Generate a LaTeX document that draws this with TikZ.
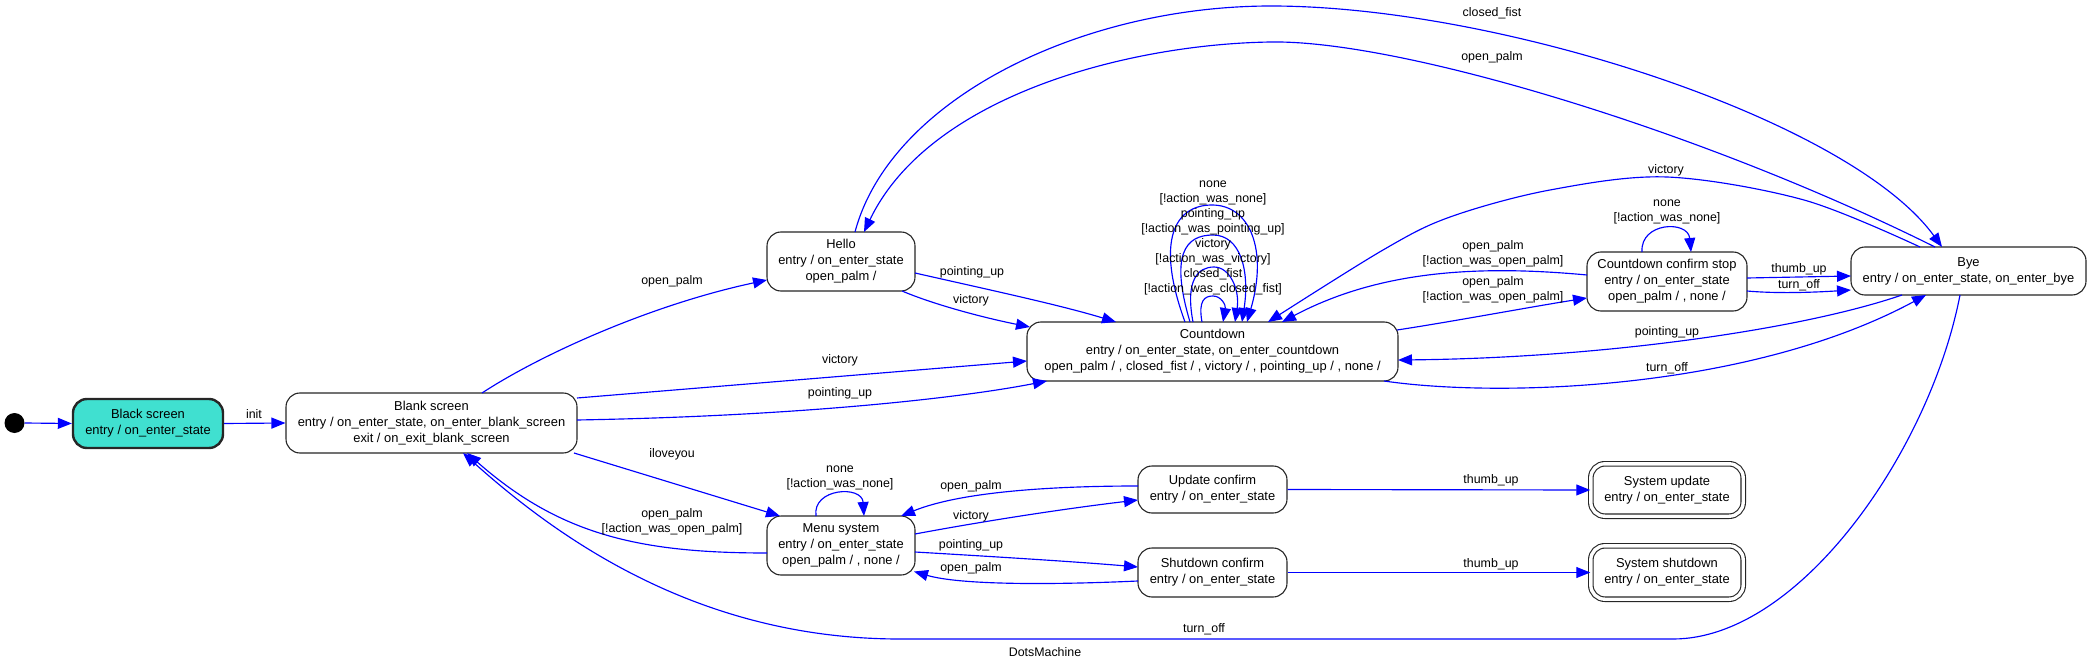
\documentclass[tikz,border=0pt]{standalone}
\usepackage{fontspec}
\setmainfont{Liberation Sans}
\usetikzlibrary{arrows.meta,calc}
\definecolor{turq}{RGB}{64,224,208}
\newcommand\stnfont{\fontsize{12.9pt}{16pt}\selectfont}
\newcommand\stefont{\fontsize{12.4pt}{15pt}\selectfont}
\tikzset{
  state/.style={draw=black!85, line width=1.1pt, rounded corners=14pt, fill=white,
    align=center, font=\stnfont, inner sep=0pt},
  finalstate/.style={state, double, double distance=3.4pt},
  tr/.style={draw=blue, line width=1.15pt, -{Triangle[length=14pt,width=11pt]}},
  lbl/.style={font=\stefont, inner sep=0pt, align=center},
}
\begin{document}
\begin{tikzpicture}[x=1pt,y=-1pt]
\useasboundingbox (0,0) rectangle (2091,671);
% nodes
\node[circle, fill=black, minimum size=20pt, inner sep=0pt] (init) at (14.5,423) {};
\node[state, line width=2.4pt, fill=turq, minimum width=150pt, minimum height=49pt] (black) at (148,423.5) {Black screen\\entry / on\_enter\_state};
\node[state, minimum width=291pt, minimum height=60pt] (blank) at (431.5,423) {Blank screen\\entry / on\_enter\_state, on\_enter\_blank\_screen\\exit / on\_exit\_blank\_screen};
\node[state, minimum width=148pt, minimum height=59pt] (hello) at (841,261.5) {Hello\\entry / on\_enter\_state\\open\_palm /};
\node[state, minimum width=371pt, minimum height=59pt] (countdown) at (1212.5,351.5) {Countdown\\entry / on\_enter\_state, on\_enter\_countdown\\open\_palm / , closed\_fist / , victory / , pointing\_up / , none /};
\node[state, minimum width=160pt, minimum height=59pt] (ccs) at (1667,281.5) {Countdown confirm stop\\entry / on\_enter\_state\\open\_palm / , none /};
\node[state, minimum width=235pt, minimum height=48pt] (bye) at (1968.5,271) {Bye\\entry / on\_enter\_state, on\_enter\_bye};
\node[state, minimum width=148pt, minimum height=59pt] (menu) at (841,545.5) {Menu system\\entry / on\_enter\_state\\open\_palm / , none /};
\node[state, minimum width=149pt, minimum height=47pt] (upd) at (1212.5,489.5) {Update confirm\\entry / on\_enter\_state};
\node[state, minimum width=149pt, minimum height=49pt] (shut) at (1212.5,572.5) {Shutdown confirm\\entry / on\_enter\_state};
\node[finalstate, minimum width=152.4pt, minimum height=52.4pt] (sysupd) at (1667,490) {System update\\entry / on\_enter\_state};
\node[finalstate, minimum width=152.4pt, minimum height=53.4pt] (sysshut) at (1667,572.5) {System shutdown\\entry / on\_enter\_state};

% edges
\draw[tr] (init.east) -- (black.west);
\draw[tr] (black.east) -- (blank.west);
\node[lbl] (l-init) at (254,414) {init};

\draw[tr] ([shift={(50.5,-30)}]blank.center) .. controls (540,355) and (650,305) .. ([shift={(-74,18.5)}]hello.center);
\node[lbl] (l-bh) at (672,281) {open\_palm};

\draw[tr] ([shift={(74,11.5)}]hello.center) .. controls (990,290) and (1060,305) .. ([shift={(-96.5,-29.5)}]countdown.center);
\node[lbl] (l-hc1) at (972,272) {pointing\_up};
\draw[tr] ([shift={(61,29.5)}]hello.center) .. controls (935,305) and (985,318) .. ([shift={(-182.5,-24.5)}]countdown.center);
\node[lbl] (l-hc2) at (971,300) {victory};

\draw[tr] ([shift={(145.5,-25)}]blank.center) -- ([shift={(-185.5,9.5)}]countdown.center);
\node[lbl] (l-bc1) at (840,360) {victory};
\draw[tr] ([shift={(145.5,-3)}]blank.center) .. controls (800,416) and (960,398) .. ([shift={(-165.5,29.5)}]countdown.center);
\node[lbl] (l-bc2) at (840,393) {pointing\_up};

\draw[tr] ([shift={(142.5,30)}]blank.center) -- ([shift={(-61,-29.5)}]menu.center);
\node[lbl] (l-bm) at (672,454) {iloveyou};
\draw[tr] ([shift={(-74,7.5)}]menu.center) .. controls (640,553) and (560,535) .. ([shift={(35.5,30)}]blank.center);
\node[lbl] (l-mb) at (672,521.5) {open\_palm\\ {[}!action\_was\_open\_palm]};

\draw[tr] ([shift={(-8.5,24)}]bye.center) .. controls (1930,450) and (1800,639) .. (1673,639) -- (900,639) .. controls (700,639) and (560,540) .. ([shift={(31.5,30)}]blank.center);
\node[lbl] (l-byb) at (1204,629) {turn\_off};

\draw[tr] ([shift={(14,-29.5)}]hello.center) .. controls (890,100) and (1080,6) .. (1271,6) .. controls (1500,6) and (1850,120) .. ([shift={(-26.5,-24)}]bye.center);
\node[lbl] (l-hby) at (1492,13) {closed\_fist};
\draw[tr] ([shift={(-33.5,-24)}]bye.center) .. controls (1700,130) and (1400,40) .. (1271,42) .. controls (1130,44) and (930,95) .. ([shift={(23,-29.5)}]hello.center);
\node[lbl] (l-byh) at (1492,57) {open\_palm};
\draw[tr] plot[smooth, tension=0.55] coordinates {([shift={(-48.5,-24)}]bye.center) (1804,200) (1667,177) (1550,190) (1450,217) (1383,250) ([shift={(55.5,-29.5)}]countdown.center)};
\node[lbl] (l-byc) at (1666,170) {victory};

\draw[tr] ([shift={(184.5,-21.5)}]countdown.center) .. controls (1450,322) and (1530,307) .. ([shift={(-80,16.5)}]ccs.center);
\node[lbl] (l-cs1) at (1493,289.5) {open\_palm\\ {[}!action\_was\_open\_palm]};
\draw[tr] ([shift={(-80,-6.5)}]ccs.center) .. controls (1480,265) and (1380,270) .. ([shift={(69.5,-29.5)}]countdown.center);
\node[lbl] (l-cs2) at (1493,253.5) {open\_palm\\ {[}!action\_was\_open\_palm]};

\draw[tr] ([shift={(80,-3.5)}]ccs.center) -- ([shift={(-117.5,5)}]bye.center);
\node[lbl] (l-sb1) at (1799,269) {thumb\_up};
\draw[tr] ([shift={(80,9.5)}]ccs.center) .. controls (1780,294) and (1820,292) .. ([shift={(-117.5,19)}]bye.center);
\node[lbl] (l-sb2) at (1799,285) {turn\_off};

\draw[tr] ([shift={(-66.5,24)}]bye.center) .. controls (1800,330) and (1600,358) .. ([shift={(185.5,8.5)}]countdown.center);
\node[lbl] (l-byc2) at (1667,332) {pointing\_up};
\draw[tr] ([shift={(171.5,29.5)}]countdown.center) .. controls (1500,398) and (1750,390) .. ([shift={(-42.5,24)}]bye.center);
\node[lbl] (l-cby) at (1667,368) {turn\_off};

% countdown self loops
\draw[tr] ([shift={(-27.5,-29.5)}]countdown.center) .. controls (1155,240) and (1175,205) .. (1212,205) .. controls (1250,205) and (1268,250) .. ([shift={(34.5,-29.5)}]countdown.center);
\draw[tr] ([shift={(-22.5,-29.5)}]countdown.center) .. controls (1170,255) and (1185,235) .. (1213,235) .. controls (1240,235) and (1250,270) .. ([shift={(29.5,-29.5)}]countdown.center);
\draw[tr] ([shift={(-19.5,-29.5)}]countdown.center) .. controls (1185,280) and (1198,267) .. (1214,267) .. controls (1230,267) and (1240,290) .. ([shift={(22.5,-29.5)}]countdown.center);
\draw[tr] ([shift={(-10.5,-29.5)}]countdown.center) .. controls (1198,300) and (1205,296) .. (1213,296) .. controls (1221,296) and (1226,305) .. ([shift={(10.5,-29.5)}]countdown.center);
\node[lbl] (l-cloop) at (1213,237.5) {none\\ {[}!action\_was\_none]\\pointing\_up\\ {[}!action\_was\_pointing\_up]\\victory\\ {[}!action\_was\_victory]\\closed\_fist\\ {[}!action\_was\_closed\_fist]};

% ccs self loop
\draw[tr] ([shift={(-25,-29.5)}]ccs.center) .. controls (1640,222) and (1688,220) .. ([shift={(24,-29.5)}]ccs.center);
\node[lbl] (l-sloop) at (1667,212) {none\\ {[}!action\_was\_none]};

% menu
\draw[tr] ([shift={(-25,-29.5)}]menu.center) .. controls (812,488) and (862,485) .. ([shift={(23,-29.5)}]menu.center);
\node[lbl] (l-mloop) at (840,477.5) {none\\ {[}!action\_was\_none]};
\draw[tr] ([shift={(74,-11.5)}]menu.center) .. controls (990,520) and (1070,508) .. ([shift={(-74.5,10.5)}]upd.center);
\node[lbl] (l-mu) at (971,516) {victory};
\draw[tr] ([shift={(-74.5,-3.5)}]upd.center) .. controls (1050,486) and (960,492) .. ([shift={(60,-29.5)}]menu.center);
\node[lbl] (l-um) at (971,486) {open\_palm};
\draw[tr] ([shift={(74,6.5)}]menu.center) .. controls (1000,557) and (1080,562) .. ([shift={(-74.5,-5.5)}]shut.center);
\node[lbl] (l-ms) at (971,545) {pointing\_up};
\draw[tr] ([shift={(-74.5,8.5)}]shut.center) .. controls (1050,585) and (960,585) .. ([shift={(73,26)}]menu.center);
\node[lbl] (l-sm) at (971,568) {open\_palm};

\draw[tr] (upd.east) -- (sysupd.west);
\node[lbl] (l-uu) at (1491,480) {thumb\_up};
\draw[tr] (shut.east) -- (sysshut.west);
\node[lbl] (l-ss) at (1491,564) {thumb\_up};

\node[lbl] (title) at (1045,652) {DotsMachine};
\end{tikzpicture}
\end{document}
